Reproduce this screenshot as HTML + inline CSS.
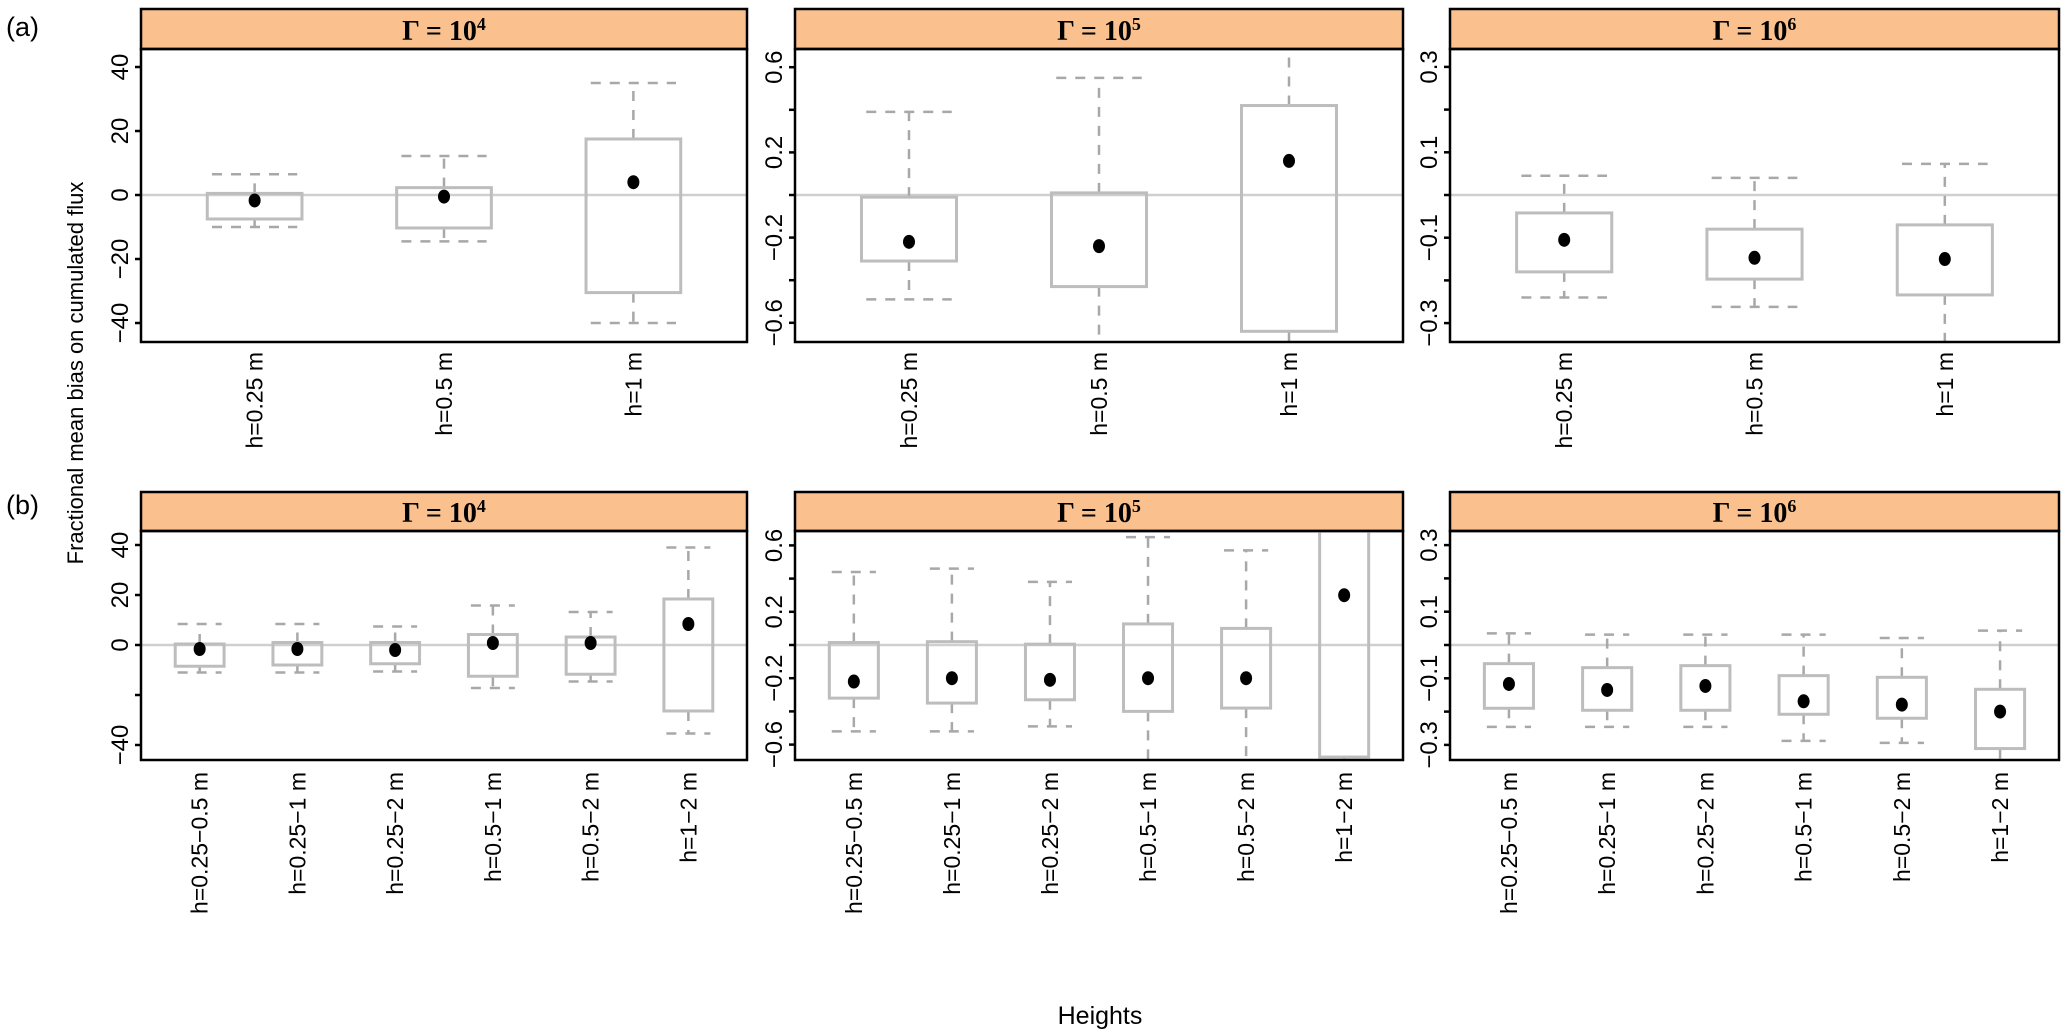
<!DOCTYPE html>
<html><head><meta charset="utf-8"><style>
html,body{margin:0;padding:0;background:#fff;}
svg{display:block;font-family:"Liberation Sans",sans-serif;}
</style></head><body>
<svg id="chart" width="2067" height="1034" viewBox="0 0 2067 1034">
<text x="6" y="36" font-size="27">(a)</text>
<text x="6" y="514" font-size="27">(b)</text>
<text transform="translate(83,373) rotate(-90)" text-anchor="middle" font-size="22">Fractional mean bias on cumulated flux</text>
<text x="1100" y="1024" text-anchor="middle" font-size="25">Heights</text>
</svg>
<script>
// ---- data ----
const catsTop = ["h=0.25 m","h=0.5 m","h=1 m"];
const catsBot = ["h=0.25\u22120.5 m","h=0.25\u22121 m","h=0.25\u22122 m","h=0.5\u22121 m","h=0.5\u22122 m","h=1\u22122 m"];
const gammaLabels = ["4","5","6"];
// [whiskerLow, q1, q3, whiskerHigh, mean]
const topG4 = [[-10,-7.5,0.5,6.5,-1.7],[-14.5,-10.3,2.3,12.2,-0.5],[-40,-30.5,17.5,35,4]];
const topG5 = [[-0.49,-0.31,-0.01,0.39,-0.22],[-0.75,-0.43,0.01,0.55,-0.24],[-0.72,-0.64,0.42,0.75,0.16]];
const topG6 = [[-0.24,-0.18,-0.042,0.045,-0.105],[-0.262,-0.197,-0.08,0.04,-0.147],[-0.36,-0.234,-0.07,0.073,-0.15]];
const botG4 = [[-11,-8.5,0.4,8.4,-1.6],[-11,-8,1,8.4,-1.6],[-10.6,-7.5,1,7.4,-2],[-17.2,-12.5,4.2,15.8,0.8],[-14.6,-11.7,3.2,13.2,0.8],[-35.4,-26.4,18.4,39,8.4]];
const botG5 = [[-0.52,-0.32,0.015,0.44,-0.22],[-0.52,-0.35,0.02,0.46,-0.2],[-0.49,-0.33,0.005,0.38,-0.21],[-0.75,-0.40,0.127,0.65,-0.2],[-0.75,-0.38,0.1,0.57,-0.2],[-0.8,-0.675,0.8,0.9,0.3]];
const botG6 = [[-0.246,-0.19,-0.056,0.035,-0.117],[-0.246,-0.196,-0.068,0.031,-0.135],[-0.246,-0.196,-0.062,0.031,-0.123],[-0.288,-0.208,-0.092,0.031,-0.169],[-0.294,-0.22,-0.097,0.021,-0.179],[-0.4,-0.311,-0.133,0.043,-0.2]];
const ticksG4 = [-40,-20,0,20,40];
const tickLabG4top = ["\u221240","\u221220","0","20","40"];
const tickLabG4bot = ["\u221240","","0","20","40"];
const ticksG5 = [-0.6,-0.4,-0.2,0,0.2,0.4,0.6];
const tickLabG5 = ["\u22120.6","","\u22120.2","","0.2","","0.6"];
const ticksG6 = [-0.3,-0.2,-0.1,0,0.1,0.2,0.3];
const tickLabG6 = ["\u22120.3","","\u22120.1","","0.1","","0.3"];

const NS="http://www.w3.org/2000/svg";
const svg=document.getElementById('chart');
function mk(tag,attrs,parent){const e=document.createElementNS(NS,tag);for(const k in attrs)e.setAttribute(k,attrs[k]);(parent||svg).appendChild(e);return e;}

const panelX=[[141,747],[795,1403],[1450,2059]];
const rows=[{stripTop:9,top:49,bottom:342,zero:195,cats:catsTop,labY:352,
  data:[topG4,topG5,topG6],scale:[3.2,213,427],ticks:[ticksG4,ticksG5,ticksG6],labs:[tickLabG4top,tickLabG5,tickLabG6]},
 {stripTop:492,top:531,bottom:760,zero:645,cats:catsBot,labY:772,
  data:[botG4,botG5,botG6],scale:[2.5,166,333],ticks:[ticksG4,ticksG5,ticksG6],labs:[tickLabG4bot,tickLabG5,tickLabG6]}];

rows.forEach((r,ri)=>{
 panelX.forEach((px,pi)=>{
  const [x0,x1]=px;const w=x1-x0;const n=r.cats.length;
  const unit=w/(n+0.2);
  const xs=i=>x0+unit*(i+0.6);
  const ys=v=>r.zero-v*r.scale[pi];
  const g=mk('g',{});
  
  
  const cid='clip'+ri+pi;
  const cp=mk('clipPath',{id:cid},g);mk('rect',{x:x0,y:r.top,width:w,height:r.bottom-r.top},cp);
  const st=mk('rect',{x:x0,y:r.stripTop,width:w,height:r.top-r.stripTop,fill:'#fac18f',stroke:'#000','stroke-width':2.5},g);
  
  
  const tt=mk('text',{x:x0+w/2,y:r.top-9,'text-anchor':'middle','font-size':28,'font-family':'"Liberation Serif",serif','font-weight':'bold'},g);
  
  
  tt.textContent='\u0393 = 10';
  const sp=mk('tspan',{dy:-10,'font-size':18},tt);sp.textContent=gammaLabels[pi];
  const zl=mk('line',{x1:x0,x2:x1,y1:ys(0),y2:ys(0),stroke:'#cfcfcf','stroke-width':2.5},g);
  
  
  const cg=mk('g',{'clip-path':'url(#'+cid+')'},g);
  const hw=unit*0.25;
  r.data[pi].forEach((d,i)=>{
   const cx=xs(i);
   const bg=mk('g',{},cg);
   
   
   const dash={stroke:'#a8a8a8','stroke-width':2.5,'stroke-dasharray':'10,9'};
   mk('line',Object.assign({x1:cx,x2:cx,y1:ys(d[2]),y2:ys(d[3])},dash),bg);
   mk('line',Object.assign({x1:cx,x2:cx,y1:ys(d[1]),y2:ys(d[0])},dash),bg);
   mk('line',Object.assign({x1:cx-hw*0.9,x2:cx+hw*0.9,y1:ys(d[3]),y2:ys(d[3])},dash),bg);
   mk('line',Object.assign({x1:cx-hw*0.9,x2:cx+hw*0.9,y1:ys(d[0]),y2:ys(d[0])},dash),bg);
   mk('rect',{x:cx-hw,y:ys(d[2]),width:2*hw,height:ys(d[1])-ys(d[2]),fill:'none',stroke:'#bdbdbd','stroke-width':3},bg);
   const m=mk('ellipse',{cx:cx,cy:ys(d[4]),rx:6,ry:7,fill:'#000'},bg);
   
   
  });
  const fr=mk('rect',{x:x0,y:r.top,width:w,height:r.bottom-r.top,fill:'none',stroke:'#000','stroke-width':2.5},g);
  
  
  r.ticks[pi].forEach((t,k)=>{
   const y=ys(t);
   mk('line',{x1:x0-6,x2:x0,y1:y,y2:y,stroke:'#000','stroke-width':2.5},g);
   if(r.labs[pi][k]){
    const tl=mk('text',{transform:'translate('+(x0-13)+','+y+') rotate(-90)','text-anchor':'middle','font-size':24},g);
    
    
    tl.textContent=r.labs[pi][k];
   }
  });
  r.cats.forEach((c,i)=>{
   const xl=mk('text',{transform:'translate('+(xs(i)+8)+','+r.labY+') rotate(-90)','text-anchor':'end','font-size':23},g);
   
   
   xl.textContent=c;
  });
 });
});
</script>
</body></html>
